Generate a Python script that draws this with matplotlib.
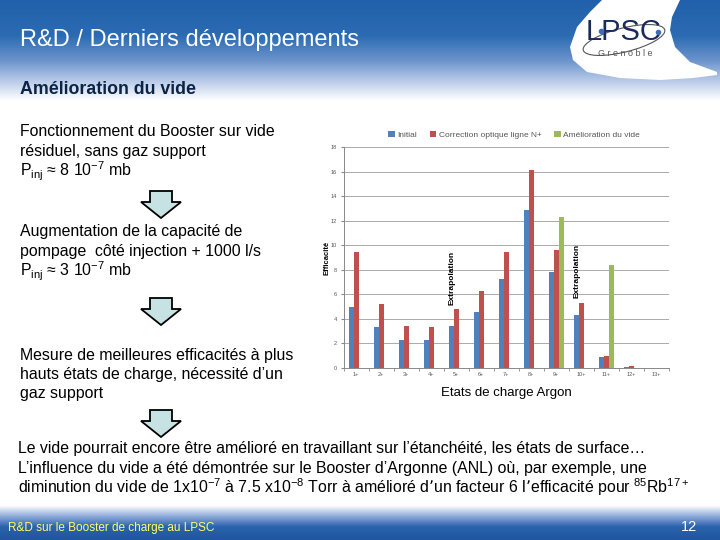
import numpy as np
import matplotlib
matplotlib.use('Agg')
import matplotlib.pyplot as plt
from matplotlib.patches import Polygon, Ellipse

plt.rcParams['font.family'] = ['Liberation Sans', 'DejaVu Sans']
plt.rcParams['mathtext.default'] = 'regular'

# data
charge_states = ['1+', '2+', '3+', '4+', '5+', '6+', '7+', '8+', '9+', '10+', '11+', '12+', '13+']
initial = [5.0, 3.3, 2.3, 2.3, 3.45, 4.6, 7.25, 12.9, 7.8, 4.35, 0.92, 0.1, 0]
correction = [9.45, 5.25, 3.45, 3.3, 4.8, 6.3, 9.45, 16.1, 9.6, 5.3, 1.0, 0.18, 0]
vide = [0, 0, 0, 0, 0, 0, 0, 0, 12.3, 0, 8.4, 0, 0]
series_names = ['Initial', 'Correction optique ligne N+', 'Amélioration du vide']
extrapolation_at = ['5+', '10+']

fig = plt.figure(figsize=(7.2, 5.4), dpi=100)

# slide background (pixel coordinates)
bg = fig.add_axes([0, 0, 1, 1])
bg.set_xlim(0, 720)
bg.set_ylim(540, 0)
bg.axis('off')

ys = np.arange(540)
stops_y = [0, 35, 60, 80, 100, 505, 516, 526, 540]
stops_r = [0.13, 0.17, 0.42, 0.72, 1.0, 1.0, 0.55, 0.17, 0.12]
stops_g = [0.38, 0.42, 0.58, 0.79, 1.0, 1.0, 0.66, 0.39, 0.33]
stops_b = [0.67, 0.70, 0.80, 0.91, 1.0, 1.0, 0.85, 0.68, 0.62]
grad = np.stack([np.interp(ys, stops_y, stops_r),
                 np.interp(ys, stops_y, stops_g),
                 np.interp(ys, stops_y, stops_b)], axis=1)[:, None, :]
bg.imshow(grad, extent=[0, 720, 540, 0], aspect='auto', zorder=0)

# logo blob
blob = [(602, 0), (680, 0), (672, 17), (670, 30), (675, 47), (690, 62), (717, 72),
        (717, 75), (693, 78), (660, 80), (620, 78), (587, 72), (573, 60), (570, 47),
        (577, 27), (590, 12)]
bg.add_patch(Polygon(blob, closed=True, facecolor='white', edgecolor='none', zorder=1))
bg.add_patch(Ellipse((624, 40), 84, 24, angle=-14, facecolor='none', edgecolor='#555555', lw=0.8, zorder=2))
bg.text(624, 32, 'LPSC', fontsize=21, color='#1B2A5C', ha='center', va='center', zorder=3)
bg.text(625, 53, 'G r e n o b l e', fontsize=6.5, color='#555555', ha='center', va='center', zorder=3)
bg.plot([601, 658], [31, 32], 'o', color='#3D6DB5', ms=3, zorder=3)

bg.text(20, 40, 'R&D / Derniers développements', fontsize=17, color='white', va='center', zorder=3)
bg.text(20, 89, 'Amélioration du vide', fontsize=12.8, fontweight='bold', color='#0B2445', va='center', zorder=3)

left_lines = [
    (136, 'Fonctionnement du Booster sur vide'),
    (156, 'résiduel, sans gaz support'),
    (176, r'P$_{inj}$ ≈ 8 10$^{-7}$ mb'),
    (236, 'Augmentation de la capacité de'),
    (256, 'pompage  côté injection + 1000 l/s'),
    (276, r'P$_{inj}$ ≈ 3 10$^{-7}$ mb'),
    (360, 'Mesure de meilleures efficacités à plus'),
    (379, 'hauts états de charge, nécessité d’un'),
    (398, 'gaz support'),
]
for y, s in left_lines:
    bg.text(20, y, s, fontsize=11.4, color='black', va='baseline', zorder=3)

bottom_lines = [
    (453, 'Le vide pourrait encore être amélioré en travaillant sur l’étanchéité, les états de surface…'),
    (473, 'L’influence du vide a été démontrée sur le Booster d’Argonne (ANL) où, par exemple, une'),
    (493, r'diminution du vide de 1x10$^{-7}$ à 7.5 x10$^{-8}$ Torr à amélioré d’un facteur 6 l’efficacité pour $^{85}$Rb$^{17+}$'),
]
for y, s in bottom_lines:
    bg.text(18, y, s, fontsize=11.4, color='black', va='baseline', zorder=3)

# block arrows
for top in [191, 298, 410]:
    cx = 161
    pts = [(cx - 11, top), (cx + 11, top), (cx + 11, top + 11), (cx + 20, top + 11),
           (cx, top + 27), (cx - 20, top + 11), (cx - 11, top + 11)]
    bg.add_patch(Polygon(pts, closed=True, facecolor='#C6E2E3', edgecolor='black', lw=1.3, zorder=3))

bg.text(8, 528, 'R&D sur le Booster de charge au LPSC', fontsize=8.5, color='#FFFF66', va='center', zorder=3)
bg.text(697, 527, '12', fontsize=10.5, color='white', ha='right', va='center', zorder=3)

bg.text(327, 258, 'Efficacité', fontsize=5.5, fontweight='bold', rotation=90, ha='center', va='center', zorder=3)
bg.text(506, 393, 'Etats de charge Argon', fontsize=9.5, color='black', ha='center', va='center', zorder=3)

# the chart
ax = fig.add_axes([343.7 / 720, 1 - 368 / 540, 325 / 720, 221 / 540])
ax.set_facecolor('none')
x = np.arange(len(charge_states))
w = 0.2
ax.bar(x - w, initial, w, color='#4F81BD', label=series_names[0], zorder=3)
ax.bar(x, correction, w, color='#C0504D', label=series_names[1], zorder=3)
ax.bar(x + w, vide, w, color='#9BBB59', label=series_names[2], zorder=3)

for lab in extrapolation_at:
    i = charge_states.index(lab)
    yc = 7.3 if lab == '5+' else 7.9
    ax.text(i - 0.15, yc, 'Extrapolation', rotation=90, fontsize=6, fontweight='bold',
            ha='center', va='center', zorder=4)

ax.set_xlim(-0.5, len(charge_states) - 0.5)
ax.set_ylim(0, 18)
ax.set_yticks(range(0, 19, 2))
ax.set_xticks(x)
ax.set_xticklabels(charge_states)
ax.set_xticks(np.arange(-0.5, len(charge_states), 1), minor=True)
ax.tick_params(axis='both', labelsize=4, colors='#555555', length=0, pad=3)
ax.tick_params(axis='x', which='minor', length=2, color='#888888')
ax.tick_params(axis='y', length=2, color='#888888')
ax.grid(axis='y', color='#AAAAAA', lw=0.7, zorder=0)
for sp in ['top', 'right']:
    ax.spines[sp].set_visible(False)
for sp in ['left', 'bottom']:
    ax.spines[sp].set_color('#888888')
    ax.spines[sp].set_linewidth(0.7)

fig.legend(loc='center', bbox_to_anchor=(514 / 720, 1 - 135 / 540), ncol=3, fontsize=6,
           frameon=False, handlelength=0.8, handleheight=0.8, columnspacing=1.5,
           handletextpad=0.3, labelcolor='#555555')

fig.savefig('out.png', dpi=100)
